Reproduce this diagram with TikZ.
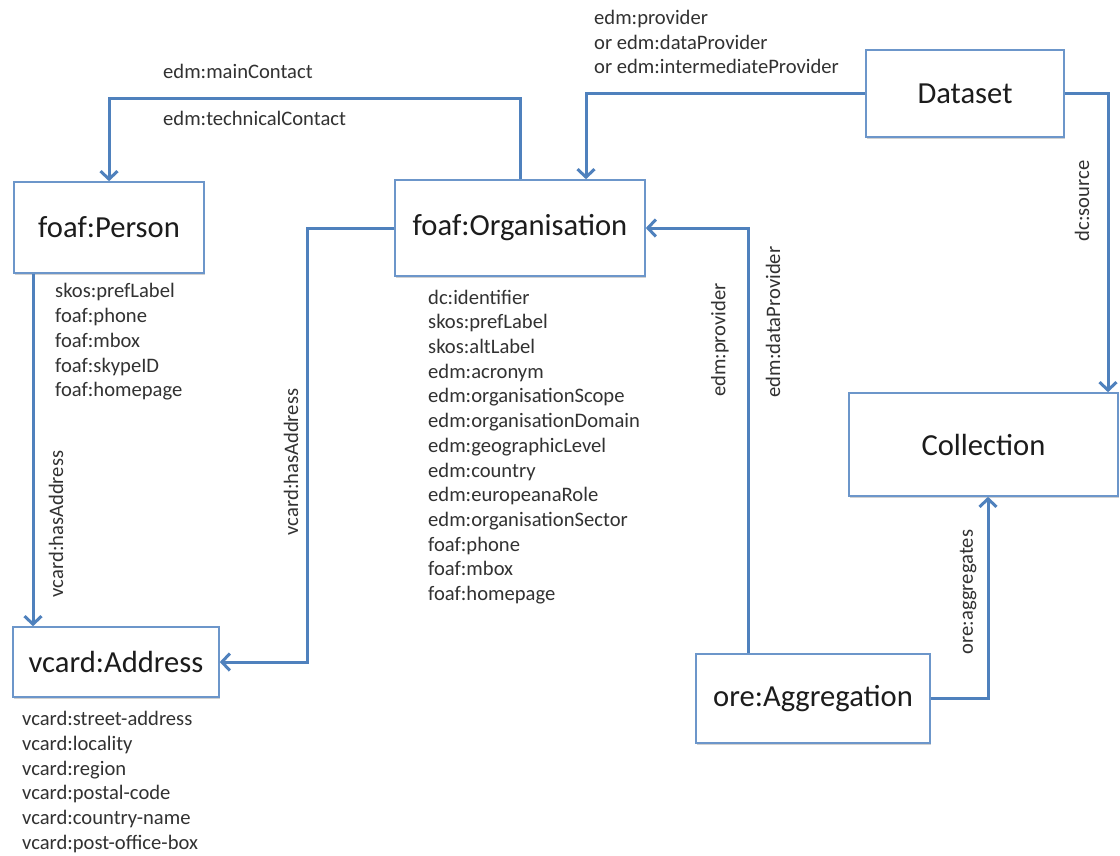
\documentclass[tikz,border=0pt]{standalone}
\usepackage{fontspec}
\setmainfont{Carlito}
\usetikzlibrary{arrows.meta,shadows}
\definecolor{lineblue}{RGB}{79,129,189}
\definecolor{boxblue}{RGB}{108,150,202}
\definecolor{titletxt}{RGB}{28,28,28}
\definecolor{listtxt}{RGB}{50,50,50}
\begin{document}
\begin{tikzpicture}[x=1pt,y=-1pt,
  box/.style={draw=boxblue, line width=1.6pt, fill=white, inner sep=0pt,
    font=\fontsize{30.6}{36}\selectfont, text=titletxt,
    drop shadow={shadow xshift=1.2pt, shadow yshift=-1.5pt, opacity=0.18, fill=black}},
  conn/.style={draw=lineblue, line width=3pt, -{Straight Barb[length=8pt,width=17pt]}},
  lbl/.style={inner sep=0pt, font=\fontsize{20.6}{24.7}\selectfont, text=listtxt},
  lst/.style={lbl, align=left, anchor=west},
  rot/.style={lbl, rotate=90}
]
\useasboundingbox[fill=white] (0,0) rectangle (1120,855);

% boxes
\node[box, minimum width=190pt, minimum height=91pt] (person) at (109,227.5) {foaf:Person};
\node[box, minimum width=250pt, minimum height=96pt] (org) at (520,228) {foaf:Organisation};
\node[box, minimum width=198pt, minimum height=87pt] (dataset) at (965,93.5) {Dataset};
\node[box, minimum width=269pt, minimum height=103pt] (collection) at (983.5,444.5) {Collection};
\node[box, minimum width=234pt, minimum height=89pt] (aggregation) at (813,698.5) {ore:Aggregation};
\node[box, minimum width=206pt, minimum height=70pt] (address) at (116,662) {vcard:Address};

% routing helpers
\coordinate (topy) at (0,98);
\coordinate (provx) at (586,0);
\coordinate (srcx) at (1108,0);
\coordinate (aggx) at (748,0);
\coordinate (aggrx) at (988,0);
\coordinate (px) at (33,0);
\coordinate (hx) at (307,0);

% connectors
\draw[conn] (org.north) -- (org.north |- topy) -| (person.north);
\draw[conn] (dataset.west) -| (org.north -| provx);
\draw[conn] (dataset.east) -| (collection.north -| srcx);
\draw[conn] (aggregation.north -| aggx) |- (org.east);
\draw[conn] (aggregation.east) -| (collection.south -| aggrx);
\draw[conn] (person.south -| px) -- (address.north -| px);
\draw[conn] (org.west) -| (hx |- address.east) -- (address.east);

% edge labels
\node[lbl, anchor=west] (mainc) at (163,71) {edm:mainContact};
\node[lbl, anchor=west] (techc) at (163,118) {edm:technicalContact};
\node[lst] (provlbl) at (594,42) {edm:provider\\or edm:dataProvider\\or edm:intermediateProvider};
\node[rot] (hasaddrL) at (56,524) {vcard:hasAddress};
\node[rot] (hasaddrR) at (291,462) {vcard:hasAddress};
\node[rot] (provR) at (720,340) {edm:provider};
\node[rot] (dprovR) at (773,322) {edm:dataProvider};
\node[rot] (srcR) at (1082,201) {dc:source};
\node[rot] (aggR) at (968,592) {ore:aggregates};

% property lists
\node[lst] (personlist) at (55,342) {skos:prefLabel\\foaf:phone\\foaf:mbox\\foaf:skypeID\\foaf:homepage};
\node[lst] (orglist) at (428,447) {dc:identifier\\skos:prefLabel\\skos:altLabel\\edm:acronym\\edm:organisationScope\\edm:organisationDomain\\edm:geographicLevel\\edm:country\\edm:europeanaRole\\edm:organisationSector\\foaf:phone\\foaf:mbox\\foaf:homepage};
\node[lst] (addrlist) at (22,782) {vcard:street-address\\vcard:locality\\vcard:region\\vcard:postal-code\\vcard:country-name\\vcard:post-office-box};
\end{tikzpicture}
\end{document}
